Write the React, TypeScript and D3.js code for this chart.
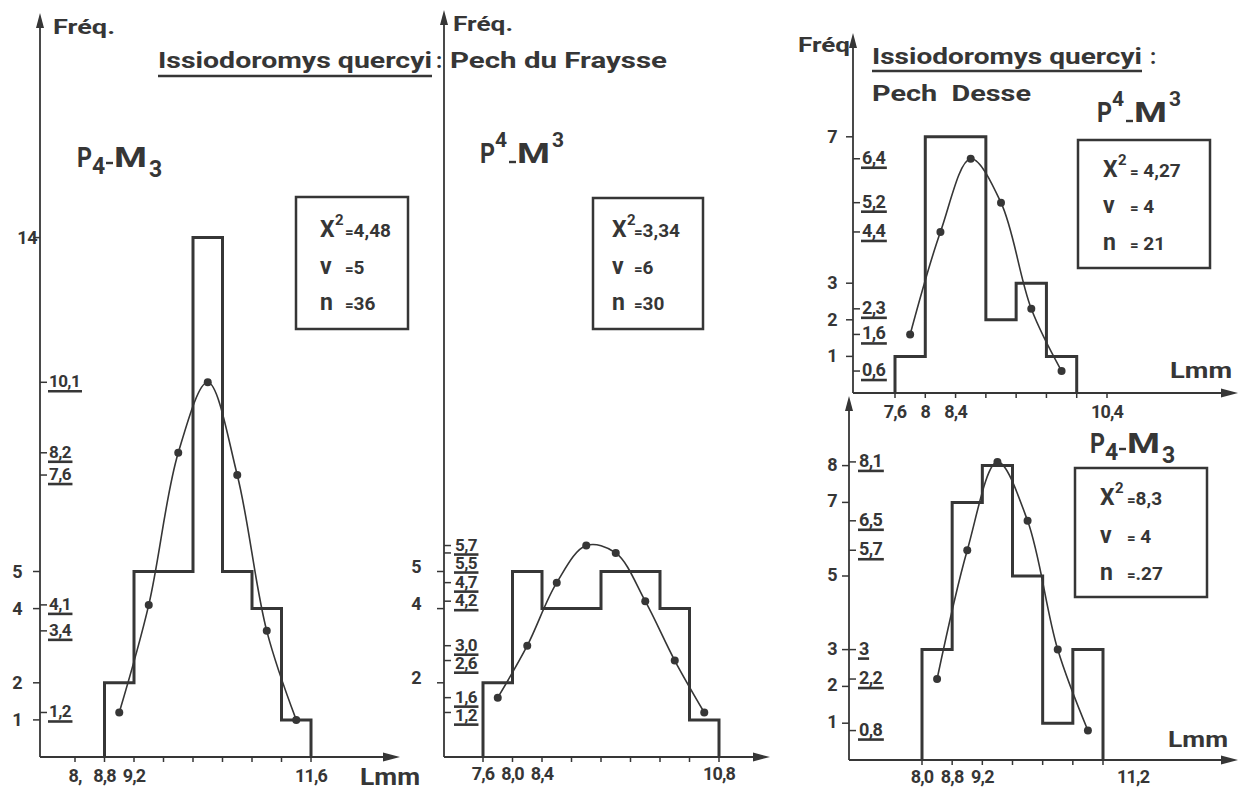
import React from "react";
import * as d3 from "d3";

// ---------------- Panel A : Pech du Fraysse, P4-M3 ----------------
const edgesA = [8.8, 9.2, 9.6, 10.0, 10.4, 10.8, 11.2, 11.6];
const countsA = [2, 5, 5, 14, 5, 4, 1];
const fitA = [1.2, 4.1, 8.2, 10.1, 7.6, 3.4, 1.0];
const fitLabelsA = ["10,1", "8,2", "7,6", "4,1", "3,4", "1,2"];
const fitLabelValuesA = [10.1, 8.2, 7.6, 4.1, 3.4, 1.2];
const yTicksA = [14, 5, 4, 2, 1];
const xTicksA = [8.4, 8.8, 9.2, 9.6, 10.0, 10.4, 10.8, 11.2, 11.6];
const xLabelValuesA = [8.4, 8.8, 9.2, 11.6];
const xLabelsA = ["8,", "8,8", "9,2", "11,6"];
const statsA = ["=4,48", "=5", "=36"];

// ---------------- Panel B : Pech du Fraysse, P4-M3 (upper) ----------------
const edgesB = [7.6, 8.0, 8.4, 8.8, 9.2, 9.6, 10.0, 10.4, 10.8];
const countsB = [2, 5, 4, 4, 5, 5, 4, 1];
const fitB = [1.6, 3.0, 4.7, 5.7, 5.5, 4.2, 2.6, 1.2];
const fitLabelsB = ["5,7", "5,5", "4,7", "4,2", "3,0", "2,6", "1,6", "1,2"];
const fitLabelValuesB = [5.7, 5.5, 4.7, 4.2, 3.0, 2.6, 1.6, 1.2];
const yTicksB = [5, 4, 2];
const xTicksB = [7.6, 8.0, 8.4, 8.8, 9.2, 9.6, 10.0, 10.4, 10.8];
const xLabelValuesB = [7.6, 8.0, 8.4, 10.8];
const xLabelsB = ["7,6", "8,0", "8,4", "10,8"];
const statsB = ["=3,34", "=6", "=30"];

// ---------------- Panel C : Pech Desse, P4-M3 (upper) ----------------
const edgesC = [7.6, 8.0, 8.4, 8.8, 9.2, 9.6, 10.0];
const countsC = [1, 7, 7, 2, 3, 1];
const fitC = [1.6, 4.4, 6.4, 5.2, 2.3, 0.6];
const fitLabelsC = ["6,4", "5,2", "4,4", "2,3", "1,6", "0,6"];
const fitLabelValuesC = [6.4, 5.2, 4.4, 2.3, 1.6, 0.6];
const yTicksC = [7, 3, 2, 1];
const xTicksC = [7.6, 8.0, 8.4, 8.8, 9.2, 9.6, 10.0, 10.4];
const xLabelValuesC = [7.6, 8.0, 8.4, 10.4];
const xLabelsC = ["7,6", "8", "8,4", "10,4"];
const statsC = ["= 4,27", "= 4", "= 21"];

// ---------------- Panel D : Pech Desse, P4-M3 (lower) ----------------
const edgesD = [8.8, 9.2, 9.6, 10.0, 10.4, 10.8, 11.2];
const countsD = [3, 7, 8, 5, 1, 3];
const fitD = [2.2, 5.7, 8.1, 6.5, 3.0, 0.8];
const fitLabelsD = ["8,1", "6,5", "5,7", "3", "2,2", "0,8"];
const fitLabelValuesD = [8.1, 6.5, 5.7, 3.0, 2.2, 0.8];
const yTicksD = [8, 7, 5, 3, 2, 1];
const xTicksD = [8.8, 9.2, 9.6, 10.0, 10.4, 10.8, 11.2];
const xLabelValuesD = [8.8, 9.2, 9.6, 11.6];
const xLabelsD = ["8,0", "8,8", "9,2", "11,2"];
const statsD = ["=8,3", "= 4", "=.27"];

const INK = "#363636";
const FONT = "Roboto, 'Liberation Sans', Arial, sans-serif";

function textW(s: string, size: number) {
  let w = 0;
  for (const ch of s) w += ch === "," || ch === "." ? 0.26 : 0.56;
  return w * size;
}

type Layout = {
  axisX: number; axisTop: number; axisRight: number;
  xDomain: [number, number]; xRange: [number, number];
  yDomain: [number, number]; yRange: [number, number];
  yLabelEnd: number; yLabelDy: number;
  fitLabelX: number; fitSize: number; xLabelY: number; xLabelSize: number;
  box: { x: number; y: number; w: number; h: number };
  symX: number; restX: number; rows: number[];
};

type Data = {
  edges: number[]; counts: number[]; fit: number[];
  fitLabels: string[]; fitLabelValues: number[];
  yTicks: number[]; xTicks: number[]; xLabelValues: number[]; xLabels: string[];
  stats: string[];
};

function Arrow({ x, y, dir }: { x: number; y: number; dir: "up" | "right" }) {
  const p = dir === "up"
    ? `M${x},${y} L${x - 4},${y + 15} L${x + 4},${y + 15} Z`
    : `M${x},${y} L${x - 17},${y - 4.5} L${x - 17},${y + 4.5} Z`;
  return <path d={p} fill={INK} />;
}

function Panel({ d, L }: { d: Data; L: Layout }) {
  const x = d3.scaleLinear().domain(L.xDomain).range(L.xRange);
  const y = d3.scaleLinear().domain(L.yDomain).range(L.yRange);
  const base = y(0);

  const steps: [number, number][] = [[d.edges[0], 0]];
  d.counts.forEach((v, i) => {
    steps.push([d.edges[i], v]);
    steps.push([d.edges[i + 1], v]);
  });
  steps.push([d.edges[d.edges.length - 1], 0]);
  const stepPath = d3.line<[number, number]>().x((p) => x(p[0])).y((p) => y(p[1]))(steps) || "";

  const fitPts: [number, number][] = d.counts.map((_, i) => [
    (d.edges[i] + d.edges[i + 1]) / 2,
    d.fit[i],
  ]);
  const curvePath = d3
    .line<[number, number]>()
    .x((p) => x(p[0]))
    .y((p) => y(p[1]))
    .curve(d3.curveCatmullRom.alpha(0.5))(fitPts) || "";

  // stack the fitted-frequency labels so close values do not collide
  const order = d.fitLabelValues.map((v, i) => i).sort((a, b) => d.fitLabelValues[b] - d.fitLabelValues[a]);
  const baselines: number[] = new Array(d.fitLabels.length);
  let prev = -1e9;
  order.forEach((i) => {
    const ty = y(d.fitLabelValues[i]);
    const b = Math.max(ty + 5, prev + 18);
    baselines[i] = b;
    prev = b;
  });

  return (
    <g>
      {/* axes */}
      <line x1={L.axisX} y1={base} x2={L.axisX} y2={L.axisTop + 8} stroke={INK} strokeWidth={1.8} />
      <Arrow x={L.axisX} y={L.axisTop} dir="up" />
      <line x1={L.axisX} y1={base} x2={L.axisRight - 8} y2={base} stroke={INK} strokeWidth={1.8} />
      <Arrow x={L.axisRight} y={base} dir="right" />

      {/* x ticks */}
      {d.xTicks.map((t) => (
        <line key={"xt" + t} x1={x(t)} x2={x(t)} y1={base} y2={base + 5} stroke={INK} strokeWidth={1.5} />
      ))}
      {d.xLabels.map((s, i) => (
        <text key={"xl" + i} x={x(d.xLabelValues[i])} y={L.xLabelY} textAnchor="middle"
          fontSize={L.xLabelSize} fontWeight={700} fill={INK} letterSpacing={-0.8}>{s}</text>
      ))}

      {/* y ticks (integer) */}
      {d.yTicks.map((t) => (
        <g key={"yt" + t}>
          <line x1={L.axisX - 7} x2={L.axisX} y1={y(t)} y2={y(t)} stroke={INK} strokeWidth={1.5} />
          <text x={t >= 10 ? L.axisX - 3 : L.yLabelEnd} y={y(t) + L.yLabelDy} textAnchor="end"
            fontSize={18} fontWeight={700} fill={INK} letterSpacing={-0.5}>{t}</text>
        </g>
      ))}

      {/* fitted-frequency labels */}
      {d.fitLabels.map((s, i) => {
        const ty = y(d.fitLabelValues[i]);
        const bl = baselines[i];
        const w = textW(s, L.fitSize);
        return (
          <g key={"fl" + i}>
            <line x1={L.axisX} x2={L.axisX + 7} y1={ty} y2={ty} stroke={INK} strokeWidth={1.5} />
            <text x={L.fitLabelX} y={bl} fontSize={L.fitSize} fontWeight={700} fill={INK} letterSpacing={-0.6}>{s}</text>
            <line x1={L.fitLabelX - 1} x2={L.fitLabelX + w} y1={bl + 4} y2={bl + 4} stroke={INK} strokeWidth={2.6} />
          </g>
        );
      })}

      {/* histogram */}
      <path d={stepPath} fill="none" stroke={INK} strokeWidth={3} strokeLinejoin="miter" />

      {/* fitted curve */}
      <path d={curvePath} fill="none" stroke={INK} strokeWidth={1.6} />
      {fitPts.map((p, i) => (
        <circle key={"pt" + i} cx={x(p[0])} cy={y(p[1])} r={4} fill={INK} />
      ))}

      {/* stats box */}
      <rect x={L.box.x} y={L.box.y} width={L.box.w} height={L.box.h} fill="none" stroke={INK} strokeWidth={2.5} />
      {["X", "ν", "n"].map((sym, i) => (
        <g key={"st" + i}>
          <text x={L.symX} y={L.rows[i]} fontSize={23} fontWeight={700} fill={INK}>{sym}</text>
          {i === 0 && (
            <text x={L.symX + 15} y={L.rows[i] - 12} fontSize={15} fontWeight={700} fill={INK}>2</text>
          )}
          <text x={L.restX} y={L.rows[i]} fill={INK} fontWeight={700} style={{ whiteSpace: "pre" }}>
            <tspan fontSize={15}>{d.stats[i].slice(0, 1)}</tspan>
            <tspan fontSize={19}>{d.stats[i].slice(1)}</tspan>
          </text>
        </g>
      ))}
    </g>
  );
}

function Tooth({ x, y, mode, digitTop, digitBot }: { x: number; y: number; mode: "sub" | "sup"; digitTop: string; digitBot: string }) {
  // label such as P4-M3 (sub) or P4_M3 (sup)
  const sub = mode === "sub";
  const ds = sub ? 23 : 21;
  return (
    <g fill={INK} fontWeight={700}>
      <text x={x} y={y} fontSize={27} textLength={15} lengthAdjust="spacingAndGlyphs">P</text>
      <text x={x + 15} y={sub ? y + 7 : y - 16} fontSize={ds}>{digitTop}</text>
      <line x1={x + 29} x2={x + 36} y1={sub ? y - 4 : y - 1} y2={sub ? y - 4 : y - 1} stroke={INK} strokeWidth={2.4} />
      <text x={x + 37} y={y} fontSize={27} textLength={33} lengthAdjust="spacingAndGlyphs">M</text>
      <text x={x + 72} y={sub ? y + 10 : y - 16} fontSize={ds}>{digitBot}</text>
    </g>
  );
}

const dataA: Data = { edges: edgesA, counts: countsA, fit: fitA, fitLabels: fitLabelsA, fitLabelValues: fitLabelValuesA, yTicks: yTicksA, xTicks: xTicksA, xLabelValues: xLabelValuesA, xLabels: xLabelsA, stats: statsA };
const dataB: Data = { edges: edgesB, counts: countsB, fit: fitB, fitLabels: fitLabelsB, fitLabelValues: fitLabelValuesB, yTicks: yTicksB, xTicks: xTicksB, xLabelValues: xLabelValuesB, xLabels: xLabelsB, stats: statsB };
const dataC: Data = { edges: edgesC, counts: countsC, fit: fitC, fitLabels: fitLabelsC, fitLabelValues: fitLabelValuesC, yTicks: yTicksC, xTicks: xTicksC, xLabelValues: xLabelValuesC, xLabels: xLabelsC, stats: statsC };
const dataD: Data = { edges: edgesD, counts: countsD, fit: fitD, fitLabels: fitLabelsD, fitLabelValues: fitLabelValuesD, yTicks: yTicksD, xTicks: xTicksD, xLabelValues: xLabelValuesD, xLabels: xLabelsD, stats: statsD };

const layA: Layout = {
  axisX: 40, axisTop: 13, axisRight: 400,
  xDomain: [8.4, 11.6], xRange: [75, 311], yDomain: [0, 14], yRange: [757, 757 - 14 * 37.1],
  yLabelEnd: 22, yLabelDy: 6, fitLabelX: 49, fitSize: 17, xLabelY: 782, xLabelSize: 18,
  box: { x: 296, y: 197, w: 112, h: 132 }, symX: 320, restX: 345, rows: [237, 274, 310],
};
const layB: Layout = {
  axisX: 444, axisTop: 10, axisRight: 770,
  xDomain: [7.6, 10.8], xRange: [483, 719], yDomain: [0, 14], yRange: [757, 757 - 14 * 37.1],
  yLabelEnd: 421, yLabelDy: 1, fitLabelX: 455, fitSize: 17, xLabelY: 780, xLabelSize: 18,
  box: { x: 593, y: 198, w: 110, h: 131 }, symX: 612, restX: 634, rows: [237, 274, 310],
};
const layC: Layout = {
  axisX: 853, axisTop: 33, axisRight: 1238,
  xDomain: [7.6, 10.4], xRange: [895, 1107], yDomain: [0, 7], yRange: [393, 393 - 7 * 36.6],
  yLabelEnd: 837, yLabelDy: 6, fitLabelX: 862, fitSize: 18, xLabelY: 418, xLabelSize: 18,
  box: { x: 1078, y: 140, w: 132, h: 128 }, symX: 1103, restX: 1130, rows: [177, 213, 250],
};
const layD: Layout = {
  axisX: 849, axisTop: 396, axisRight: 1238,
  xDomain: [8.8, 11.2], xRange: [922, 1103], yDomain: [0, 8], yRange: [760, 760 - 8 * 36.8],
  yLabelEnd: 837, yLabelDy: 5, fitLabelX: 859, fitSize: 18, xLabelY: 783, xLabelSize: 18,
  box: { x: 1075, y: 468, w: 132, h: 129 }, symX: 1100, restX: 1127, rows: [505, 543, 580],
};

export default function App() {
  return (
    <svg width={1240} height={790} viewBox="0 0 1240 790"
      style={{ position: "absolute", left: 0, top: 0, background: "#fff", fontFamily: FONT }}>
      <rect x={0} y={0} width={1240} height={790} fill="#fff" />

      {/* headings */}
      <g fill={INK} fontWeight={700}>
        <text x={53} y={34} fontSize={20} textLength={62} lengthAdjust="spacingAndGlyphs">Fréq.</text>
        <text x={453} y={31} fontSize={20} textLength={60} lengthAdjust="spacingAndGlyphs">Fréq.</text>
        <text x={798} y={52} fontSize={20} textLength={52} lengthAdjust="spacingAndGlyphs">Fréq</text>

        <text x={158} y={68} fontSize={22} textLength={274} lengthAdjust="spacingAndGlyphs">Issiodoromys quercyi</text>
        <text x={436} y={68} fontSize={22}>:</text>
        <text x={450} y={68} fontSize={22} textLength={217} lengthAdjust="spacingAndGlyphs">Pech du Fraysse</text>

        <text x={872} y={64} fontSize={22} textLength={270} lengthAdjust="spacingAndGlyphs">Issiodoromys quercyi</text>
        <text x={1150} y={64} fontSize={22}>:</text>
        <text x={872} y={101} fontSize={22} textLength={159} lengthAdjust="spacingAndGlyphs" style={{ whiteSpace: "pre" }}>Pech  Desse</text>

        <text x={360} y={785} fontSize={23} textLength={60} lengthAdjust="spacingAndGlyphs">Lmm</text>
        <text x={1170} y={378} fontSize={22} textLength={62} lengthAdjust="spacingAndGlyphs">Lmm</text>
        <text x={1168} y={747} fontSize={22} textLength={60} lengthAdjust="spacingAndGlyphs">Lmm</text>
      </g>
      <line x1={158} x2={432} y1={76} y2={76} stroke={INK} strokeWidth={2.5} />
      <line x1={872} x2={1142} y1={71} y2={71} stroke={INK} strokeWidth={2.5} />

      <Tooth x={77} y={167} mode="sub" digitTop="4" digitBot="3" />
      <Tooth x={480} y={163} mode="sup" digitTop="4" digitBot="3" />
      <Tooth x={1097} y={122} mode="sup" digitTop="4" digitBot="3" />
      <Tooth x={1090} y={453} mode="sub" digitTop="4" digitBot="3" />

      <Panel d={dataA} L={layA} />
      <Panel d={dataB} L={layB} />
      <Panel d={dataC} L={layC} />
      <Panel d={dataD} L={layD} />
    </svg>
  );
}
